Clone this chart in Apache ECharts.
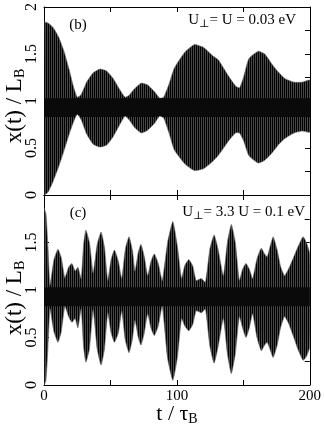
<!DOCTYPE html>
<html>
<head>
<meta charset="utf-8">
<script src="https://cdn.jsdelivr.net/npm/echarts@6/dist/echarts.min.js"></script>
<style>
  html, body { margin: 0; padding: 0; background: #fff; }
  #chart { width: 324px; height: 434px; }
</style>
</head>
<body>
<div id="chart"></div>
<script>
// panel (b): envelope of x(t)/L_B
const topT = [0, 3, 7, 11, 15, 19, 22, 25, 28, 32, 37, 42, 47, 52, 57, 61, 64, 68, 73, 78, 83, 87, 90, 94, 98, 106, 113, 120, 127, 131, 139, 144, 147, 150, 154, 161, 166, 171, 176, 181, 188, 194, 200];
const topUpper = [1.84, 1.83, 1.78, 1.68, 1.53, 1.33, 1.16, 1.04, 1.07, 1.2, 1.3, 1.34, 1.32, 1.24, 1.12, 1.04, 1.06, 1.13, 1.19, 1.17, 1.1, 1.03, 1.04, 1.18, 1.35, 1.52, 1.6, 1.57, 1.48, 1.44, 1.26, 1.16, 1.14, 1.25, 1.45, 1.53, 1.5, 1.4, 1.31, 1.24, 1.2, 1.2, 1.22];
const topLower = [0.0, 0.03, 0.15, 0.3, 0.47, 0.65, 0.77, 0.86, 0.8, 0.65, 0.54, 0.51, 0.53, 0.62, 0.75, 0.84, 0.8, 0.72, 0.66, 0.69, 0.76, 0.84, 0.82, 0.66, 0.48, 0.33, 0.26, 0.28, 0.36, 0.42, 0.58, 0.66, 0.66, 0.58, 0.42, 0.34, 0.37, 0.44, 0.53, 0.6, 0.66, 0.68, 0.67];

// panel (c)
const botT = [0, 1.5, 3, 4.5, 7.5, 10.5, 13, 15.7, 18.5, 21, 23.5, 25.5, 28, 29.8, 31.5, 34.2, 37, 40, 43, 45.5, 48, 50.5, 53, 56, 58.5, 61.2, 64, 66.5, 68.5, 71, 73, 75.5, 78, 80.5, 83, 86, 89, 93, 97, 100.5, 103.5, 106, 109, 112, 114.5, 118.5, 121.5, 124.8, 128, 131, 135, 138, 141, 144, 147, 149.5, 152, 154.5, 157, 160.3, 163.5, 166, 168, 170, 172.5, 175.5, 178, 181, 184, 188, 191, 195, 197.5, 200];
const botUpper = [1.86, 1.8, 1.45, 1.05, 1.32, 1.43, 1.34, 1.13, 1.24, 1.28, 1.2, 1.24, 1.12, 1.48, 1.63, 1.5, 1.18, 1.48, 1.61, 1.45, 1.1, 1.32, 1.42, 1.3, 1.12, 1.43, 1.56, 1.42, 1.2, 1.4, 1.48, 1.35, 1.15, 1.3, 1.38, 1.28, 1.1, 1.5, 1.72, 1.45, 1.12, 1.26, 1.32, 1.25, 1.1, 1.12, 1.08, 1.43, 1.58, 1.43, 1.15, 1.5, 1.69, 1.5, 1.1, 1.22, 1.28, 1.22, 1.12, 1.33, 1.44, 1.38, 1.35, 1.45, 1.56, 1.42, 1.25, 1.15, 1.22, 1.35, 1.45, 1.56, 1.5, 1.38];
const botLower = [0.0, 0.05, 0.4, 0.8, 0.56, 0.45, 0.56, 0.83, 0.72, 0.66, 0.7, 0.6, 0.8, 0.4, 0.24, 0.38, 0.79, 0.38, 0.21, 0.38, 0.76, 0.55, 0.45, 0.55, 0.78, 0.47, 0.34, 0.48, 0.68, 0.5, 0.42, 0.55, 0.75, 0.6, 0.52, 0.62, 0.83, 0.28, 0.05, 0.3, 0.7, 0.62, 0.57, 0.64, 0.78, 0.76, 0.8, 0.41, 0.23, 0.4, 0.7, 0.33, 0.12, 0.33, 0.72, 0.6, 0.5, 0.6, 0.75, 0.5, 0.36, 0.42, 0.45, 0.38, 0.29, 0.42, 0.6, 0.72, 0.65, 0.5, 0.38, 0.26, 0.3, 0.4];

// dark core where the oscillations overlap
const coreHi = 1.03;
const coreLo = 0.83;

const FONT = '"Liberation Serif", "DejaVu Serif", serif';

// striped fill to mimic the dense vertical oscillation lines
const pat = document.createElement('canvas');
pat.width = 2; pat.height = 4;
const pc = pat.getContext('2d');
pc.fillStyle = '#474747'; pc.fillRect(0, 0, 2, 4);
pc.fillStyle = '#000'; pc.fillRect(0, 0, 1, 4);

// one filled polygon between hi and lo, placed through the axes
function bandSeries(idx, t, hi, lo) {
  const cl = lo.map(v => Math.max(v, coreLo));
  const ch = hi.map((v, i) => Math.max(Math.min(v, coreHi), cl[i]));
  function poly(api, a, b) {
    const pts = [];
    for (let i = 0; i < t.length; i++) pts.push(api.coord([t[i], a[i]]));
    for (let i = t.length - 1; i >= 0; i--) pts.push(api.coord([t[i], b[i]]));
    return pts;
  }
  return {
    type: 'custom', xAxisIndex: idx * 2, yAxisIndex: idx * 2,
    animation: false, silent: true, clip: true,
    data: [[0, 1]],
    renderItem: function (params, api) {
      return {
        type: 'group',
        children: [
          { type: 'polygon', shape: { points: poly(api, hi, lo), smooth: 0.15 },
            style: { fill: { image: pat, repeat: 'repeat' }, stroke: '#666', lineWidth: 0.6 } },
          { type: 'polygon', shape: { points: poly(api, ch, cl) },
            style: { fill: '#0a0a0a' } }
        ]
      };
    }
  };
}

const line = { show: true, onZero: false, lineStyle: { color: '#000', width: 1 } };
function xAx(grid, pos, labels) {
  return {
    type: 'value', gridIndex: grid, position: pos, min: 0, max: 200, interval: 50,
    axisLine: line, splitLine: { show: false },
    axisTick: { show: true, inside: true, length: 5, lineStyle: { color: '#000' } },
    axisLabel: labels ? {
      show: true, margin: 4, fontFamily: FONT, fontSize: 15, color: '#000',
      formatter: v => (v % 100 === 0 ? String(v) : '')
    } : { show: false }
  };
}
function yAx(grid, pos, hideTop) {
  const left = pos === 'left';
  return {
    type: 'value', gridIndex: grid, position: pos, min: 0, max: 2,
    interval: left ? 0.5 : 0.25,
    axisLine: line, splitLine: { show: false },
    axisTick: { show: true, inside: true, length: 5, lineStyle: { color: '#000' } },
    axisLabel: left ? {
      show: true, rotate: 90, margin: 4, fontFamily: FONT, fontSize: 16, color: '#000',
      formatter: v => (hideTop && v === 2 ? '' : String(v))
    } : { show: false }
  };
}

const sub = { fontFamily: FONT, fontSize: 14, padding: [10, 0, 0, 0], fill: '#000' };
function txt(x, y, text, size, align, rot, rich) {
  return {
    type: 'text', x: x, y: y, rotation: rot || 0, silent: true, z: 100,
    style: {
      text: text, fontFamily: FONT, fontSize: size, fill: '#000',
      align: align, verticalAlign: 'middle',
      rich: rich || {}
    }
  };
}
const titleRich = { a: { fontFamily: FONT, fontSize: 22, fill: '#000' }, b: sub };
const yTitleRich = { a: { fontFamily: FONT, fontSize: 23, fill: '#000' }, b: sub };
const noteRich = {
  a: { fontFamily: FONT, fontSize: 15, fill: '#000' },
  s: { fontFamily: FONT, fontSize: 11, padding: [8, 0, 0, 0], fill: '#000' }
};

const chart = echarts.init(document.getElementById('chart'), null, { renderer: 'canvas' });
chart.setOption({
  backgroundColor: '#fff',
  animation: false,
  grid: [
    { left: 44, right: 14, top: 5, height: 190 },
    { left: 44, right: 14, top: 195, height: 190 }
  ],
  xAxis: [xAx(0, 'bottom', false), xAx(0, 'top', false), xAx(1, 'bottom', true), xAx(1, 'top', false)],
  yAxis: [yAx(0, 'left', false), yAx(0, 'right', false), yAx(1, 'left', true), yAx(1, 'right', false)],
  series: [bandSeries(0, topT, topUpper, topLower), bandSeries(1, botT, botUpper, botLower)],
  graphic: [
    txt(15, 106, '{a|x(t) / L}{b|B}', 23, 'center', Math.PI / 2, yTitleRich),
    txt(15, 298, '{a|x(t) / L}{b|B}', 23, 'center', Math.PI / 2, yTitleRich),
    txt(177, 414, '{a|t / τ}{b|B}', 22, 'center', 0, titleRich),
    txt(78, 25, '(b)', 15, 'center'),
    txt(78, 213, '(c)', 15, 'center'),
    txt(296, 20, '{a|U}{s|⊥}{a|= U = 0.03 eV}', 15, 'right', 0, noteRich),
    txt(305, 212, '{a|U}{s|⊥}{a|= 3.3 U = 0.1 eV}', 15, 'right', 0, noteRich)
  ]
});
</script>
</body>
</html>
